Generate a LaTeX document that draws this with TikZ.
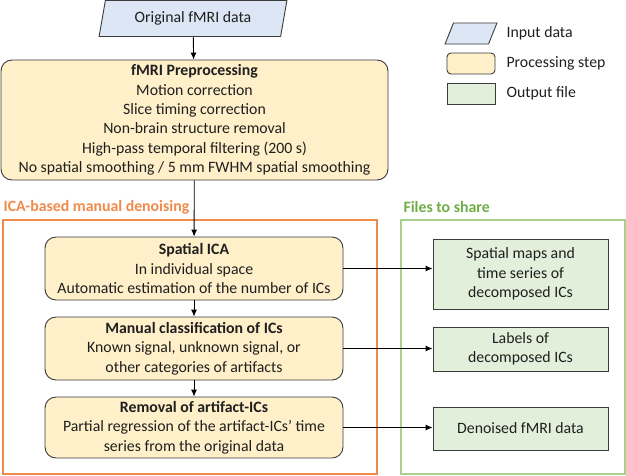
\documentclass[tikz,border=0pt]{standalone}
\usepackage{fontspec}
\setmainfont{Carlito}
\usetikzlibrary{arrows.meta,shapes.geometric}

\definecolor{inblue}{HTML}{DCE6F4}
\definecolor{procyel}{HTML}{FFF0C9}
\definecolor{outgreen}{HTML}{E2EFDA}
\definecolor{icaorange}{HTML}{F08A4B}
\definecolor{sharegreen}{HTML}{A9D18E}
\definecolor{sharetext}{HTML}{70AD47}
\definecolor{edgegray}{HTML}{3A3A3A}

\tikzset{
  inbox/.style={trapezium,trapezium left angle=73,trapezium right angle=107,
    trapezium stretches=true,draw=edgegray,fill=inblue,line width=0.9pt,inner sep=0pt},
  procbox/.style={rounded corners=11pt,draw=edgegray,fill=procyel,line width=0.9pt,
    align=center,inner sep=0pt},
  outbox/.style={draw=edgegray,fill=outgreen,line width=0.9pt,align=center,inner sep=0pt},
  arr/.style={-{Latex[length=7pt,width=6pt]},line width=0.9pt},
  frametitle/.style={anchor=west,font=\fontsize{15.8}{19.3}\selectfont\bfseries}
}

\begin{document}
\begin{tikzpicture}[x=1pt,y=-1pt,font=\fontsize{15.8}{19.3}\selectfont,text=black!88]
  \useasboundingbox (0,0) rectangle (626,475);

  % frames
  \draw[icaorange,line width=1.6pt] (3,220) rectangle (377,474);
  \draw[sharegreen,line width=1.3pt] (401,220) rectangle (625,474);
  \node[frametitle,text=icaorange] (icatitle) at (0,207) {ICA-based manual denoising};
  \node[frametitle,text=sharetext] (sharetitle) at (400,207) {Files to share};

  % flow
  \node[inbox,minimum width=188pt,minimum height=36pt] (orig) at (193,18.5) {Original fMRI data};
  \node[procbox,minimum width=387pt,minimum height=120pt] (prep) at (194.5,120)
    {\textbf{fMRI Preprocessing}\\Motion correction\\Slice timing correction\\
     Non-brain structure removal\\High-pass temporal filtering (200 s)\\
     No spatial smoothing / 5 mm FWHM spatial smoothing};
  \node[procbox,minimum width=298pt,minimum height=63pt] (ica) at (194,268.5)
    {\textbf{Spatial ICA}\\In individual space\\Automatic estimation of the number of ICs};
  \node[procbox,minimum width=298pt,minimum height=63pt] (classify) at (194,348.5)
    {\textbf{Manual classification of ICs}\\Known signal, unknown signal, or\\other categories of artifacts};
  \node[procbox,minimum width=298pt,minimum height=61pt] (removal) at (194,427.5)
    {\textbf{Removal of artifact-ICs}\\Partial regression of the artifact-ICs’ time\\series from the original data};

  % outputs
  \node[outbox,minimum width=175pt,minimum height=70pt] (maps) at (520.5,274)
    {Spatial maps and\\time series of\\decomposed ICs};
  \node[outbox,minimum width=175pt,minimum height=44pt] (labels) at (520.5,349)
    {Labels of\\decomposed ICs};
  \node[outbox,minimum width=175pt,minimum height=43pt] (denoised) at (520.5,428.5)
    {Denoised fMRI data};

  \draw[arr] (orig) -- (prep);
  \draw[arr] (prep) -- (ica);
  \draw[arr] (ica) -- (classify);
  \draw[arr] (classify) -- (removal);
  \draw[arr] (ica.east) -- (ica.east -| maps.west);
  \draw[arr] (classify.east) -- (classify.east -| labels.west);
  \draw[arr] (removal.east) -- (removal.east -| denoised.west);

  % legend
  \node[inbox,minimum width=52pt,minimum height=21pt] (keyin) at (471,33.5) {\phantom{Mj}};
  \node[procbox,rounded corners=4pt,minimum width=48pt,minimum height=21pt] (keyproc) at (471,63.5) {};
  \node[outbox,minimum width=48pt,minimum height=21pt] (keyout) at (471,93.5) {};
  \node[anchor=west] (keyinlab) at (503,33.5) {Input data};
  \node[anchor=west] (keyproclab) at (503,63.5) {Processing step};
  \node[anchor=west] (keyoutlab) at (503,93.5) {Output file};
\end{tikzpicture}
\end{document}
